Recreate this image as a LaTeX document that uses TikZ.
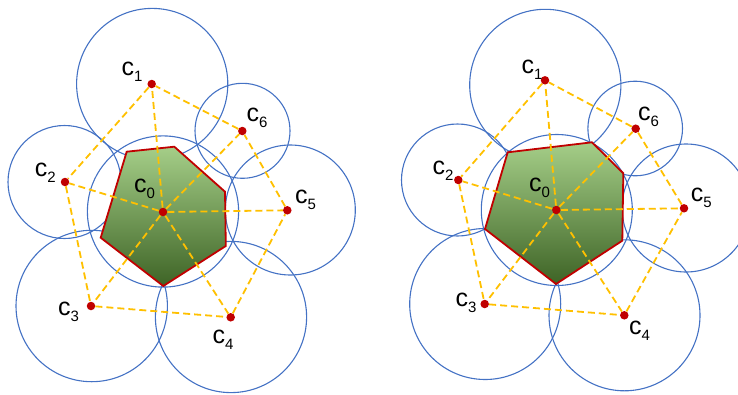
\documentclass[tikz,border=0pt]{standalone}
\usepackage{fontspec}
\setmainfont{Liberation Sans}
\definecolor{cblue}{RGB}{68,114,196}
\definecolor{cyell}{RGB}{255,192,0}
\definecolor{cred}{RGB}{192,0,0}
\definecolor{gtop}{RGB}{165,206,136}
\definecolor{gmid}{RGB}{112,173,71}
\definecolor{gbot}{RGB}{62,100,38}
\newcommand{\clab}[1]{c\raisebox{-6pt}{\fontsize{15}{15}\selectfont #1}}
\begin{document}
\begin{tikzpicture}[x=1pt,y=-1pt,
  ring/.style={draw=cblue,line width=1.1pt},
  cell/.style={draw=cred,line width=1.8pt,line join=miter,top color=gtop,middle color=gmid,bottom color=gbot},
  conn/.style={draw=cyell,line width=1.8pt,dash pattern=on 7pt off 4pt},
  dot/.style={circle,fill=cred,inner sep=0pt,minimum size=8.5pt},
  lbl/.style={anchor=base west,inner sep=0pt,font=\fontsize{25}{25}\selectfont}]
\useasboundingbox (0,0) rectangle (738,394);
% ---------- left ----------
\draw[ring] (163,211.5) circle (75.6);
\draw[ring] (152.2,84) circle (75.6);
\draw[ring] (64.5,182) circle (56.5);
\draw[ring] (91.7,306) circle (75.7);
\draw[ring] (231,317) circle (75.6);
\draw[ring] (290.3,210) circle (65);
\draw[ring] (242.5,130.8) circle (47.5);
\path[cell] (126.7,151.7) -- (174.3,146.7) -- (225,191.7) -- (225.8,246) -- (163.3,286) -- (100.7,237.7) -- cycle;
\node[dot] (L0) at (163,212) {};
\node[dot] (L1) at (151.7,84) {};
\node[dot] (L2) at (65,182) {};
\node[dot] (L3) at (91,306) {};
\node[dot] (L4) at (230.7,317.3) {};
\node[dot] (L5) at (287.3,210.3) {};
\node[dot] (L6) at (242.3,131) {};
\draw[conn] (L1) -- (L2) -- (L3) -- (L4) -- (L5) -- (L6) -- (L1);
\foreach \i in {1,...,6} \draw[conn] (L0) -- (L\i);
\node[lbl] (tL1) at (121.3,75.7) {\clab{1}};
\node[lbl] (tL6) at (246.3,121.7) {\clab{6}};
\node[lbl] (tL2) at (34.7,176.7) {\clab{2}};
\node[lbl] (tL0) at (134,192.3) {\clab{0}};
\node[lbl] (tL5) at (295,203.3) {\clab{5}};
\node[lbl] (tL3) at (58,315) {\clab{3}};
\node[lbl] (tL4) at (212.3,343.3) {\clab{4}};
% ---------- right ----------
\draw[ring] (556.8,210) circle (75.5);
\draw[ring] (545.3,84.9) circle (75.6);
\draw[ring] (457.5,180) circle (56);
\draw[ring] (485.2,304) circle (75.5);
\draw[ring] (624.5,315.3) circle (75.5);
\draw[ring] (686,208) circle (64);
\draw[ring] (635.2,128.5) circle (47.3);
\path[cell] (507.7,152.3) -- (592,142.3) -- (623.3,173.3) -- (622.3,240.7) -- (556,284) -- (485,229) -- cycle;
\node[dot] (R0) at (556.3,210) {};
\node[dot] (R1) at (545,80.3) {};
\node[dot] (R2) at (458.3,180) {};
\node[dot] (R3) at (484.7,304) {};
\node[dot] (R4) at (624.3,315.3) {};
\node[dot] (R5) at (684,208.3) {};
\node[dot] (R6) at (635.7,128.7) {};
\draw[conn] (R1) -- (R2) -- (R3) -- (R4) -- (R5) -- (R6) -- (R1);
\foreach \i in {1,...,6} \draw[conn] (R0) -- (R\i);
\node[lbl] (tR1) at (521.3,73.3) {\clab{1}};
\node[lbl] (tR6) at (638,120.7) {\clab{6}};
\node[lbl] (tR2) at (432.3,174) {\clab{2}};
\node[lbl] (tR0) at (529,191.7) {\clab{0}};
\node[lbl] (tR5) at (690.7,201.7) {\clab{5}};
\node[lbl] (tR3) at (455.3,306.7) {\clab{3}};
\node[lbl] (tR4) at (629,334) {\clab{4}};
\end{tikzpicture}
\end{document}
